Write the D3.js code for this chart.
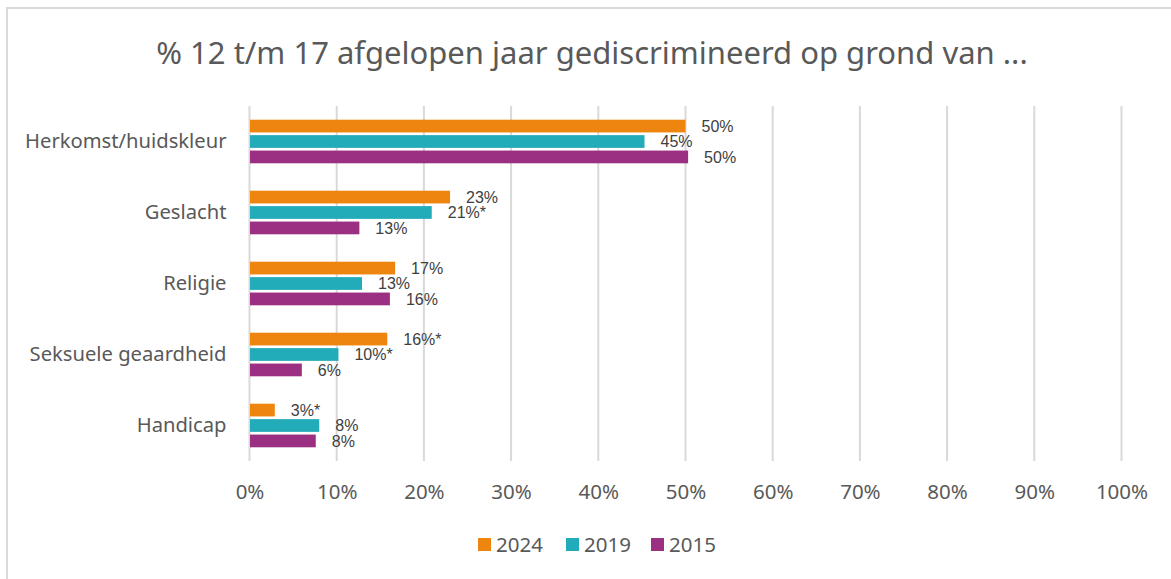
<!DOCTYPE html>
<html>
<head>
<meta charset="utf-8">
<script src="https://cdn.jsdelivr.net/npm/d3@7"></script>
<style>
  html, body { margin: 0; padding: 0; background: #fff; }
  svg { display: block; }
</style>
</head>
<body>
<div id="chart"></div>
<script>
// Share of 12–17 year olds who felt discriminated in the past year, by ground
const categories = ["Herkomst/huidskleur", "Geslacht", "Religie", "Seksuele geaardheid", "Handicap"];
const seriesNames = ["2024", "2019", "2015"];
const values2024 = [50.0, 23.0, 16.7, 15.8, 2.9];
const values2019 = [45.3, 20.9, 12.9, 10.2, 8.0];
const values2015 = [50.3, 12.6, 16.1, 6.0, 7.6];
// significant difference markers shown after the label
const marks2024 = ["", "", "", "*", "*"];
const marks2019 = ["", "*", "", "*", ""];
const marks2015 = ["", "", "", "", ""];
const xTicks = [0, 10, 20, 30, 40, 50, 60, 70, 80, 90, 100];
const seriesColors = ["#EE850E", "#22ABB8", "#9B2F82"];

const seriesValues = [values2024, values2019, values2015];
const seriesMarks = [marks2024, marks2019, marks2015];

const W = 1171, H = 579;
const plot = { left: 249.5, right: 1121.5, top: 106, bottom: 461 };

const svg = d3.select("#chart").append("svg")
  .attr("width", W).attr("height", H);

// outer frame
svg.append("rect")
  .attr("x", 7).attr("y", 8).attr("width", W + 20).attr("height", H + 20)
  .attr("fill", "none").attr("stroke", "#d9d9d9").attr("stroke-width", 2);

const uiFont = "'Noto Sans', 'Open Sans', sans-serif";
const labelFont = "'Liberation Sans', Arial, sans-serif";

// title
svg.append("text")
  .attr("x", 592).attr("y", 64)
  .attr("text-anchor", "middle")
  .attr("font-family", uiFont)
  .attr("font-size", 31)
  .attr("fill", "#595959")
  .text("% 12 t/m 17 afgelopen jaar gediscrimineerd op grond van ...");

const x = d3.scaleLinear().domain([0, 100]).range([plot.left, plot.right]);
const y = d3.scaleBand().domain(categories)
  .range([plot.top, plot.bottom])
  .paddingInner(0.386).paddingOuter(0.193);
const ySub = d3.scaleBand().domain(seriesNames)
  .range([0, y.bandwidth()])
  .paddingInner(0.175).paddingOuter(0);

// vertical gridlines
svg.append("g").selectAll("line").data(xTicks).join("line")
  .attr("x1", d => x(d)).attr("x2", d => x(d))
  .attr("y1", plot.top).attr("y2", plot.bottom)
  .attr("stroke", "#d9d9d9").attr("stroke-width", 2);

// x axis labels
const xAxis = d3.axisBottom(x).tickValues(xTicks).tickSize(0).tickPadding(0)
  .tickFormat(d => d + "%");
const gx = svg.append("g").attr("transform", `translate(0,${plot.bottom + 23})`).call(xAxis);
gx.select(".domain").remove();
gx.selectAll("text")
  .attr("font-family", uiFont).attr("font-size", 20.5).attr("fill", "#595959")
  .attr("dy", "0.71em");

// category labels
const yAxis = d3.axisLeft(y).tickSize(0).tickPadding(0);
const gy = svg.append("g").attr("transform", `translate(${plot.left - 23},0)`).call(yAxis);
gy.select(".domain").remove();
gy.selectAll("text")
  .attr("font-family", uiFont).attr("font-size", 20.2).attr("fill", "#595959");

// bars and value labels
const rows = [];
categories.forEach((c, i) => {
  seriesNames.forEach((s, j) => {
    rows.push({ cat: c, series: s, value: seriesValues[j][i], mark: seriesMarks[j][i], color: seriesColors[j] });
  });
});

const fmt = d3.format(".0f");
const g = svg.append("g");
g.selectAll("rect").data(rows).join("rect")
  .attr("x", x(0) + 0.5)
  .attr("y", d => y(d.cat) + ySub(d.series))
  .attr("width", d => x(d.value) - x(0) - 0.5)
  .attr("height", ySub.bandwidth())
  .attr("fill", d => d.color);

g.selectAll("text").data(rows).join("text")
  .attr("x", d => x(d.value) + 16)
  .attr("y", d => y(d.cat) + ySub(d.series) + ySub.bandwidth() / 2)
  .attr("dy", "0.36em")
  .attr("font-family", labelFont).attr("font-size", 16).attr("fill", "#404040")
  .text(d => fmt(d.value) + "%" + d.mark);

// legend
const legend = svg.append("g").attr("transform", "translate(478,545)");
const legendX = [0, 88, 173];
seriesNames.forEach((s, j) => {
  const item = legend.append("g").attr("transform", `translate(${legendX[j]},0)`);
  item.append("rect").attr("x", 0).attr("y", -7).attr("width", 13).attr("height", 13)
    .attr("fill", seriesColors[j]);
  item.append("text").attr("x", 18).attr("y", 0).attr("dy", "0.35em")
    .attr("font-family", uiFont).attr("font-size", 20.5).attr("fill", "#595959")
    .text(s);
});
</script>
</body>
</html>
